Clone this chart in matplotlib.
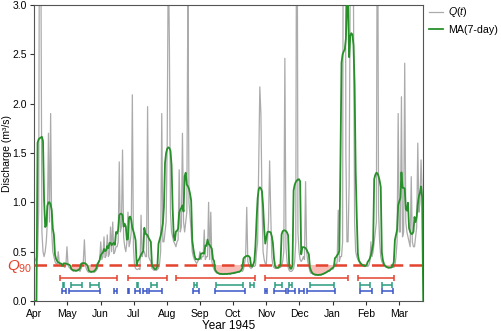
import matplotlib.pyplot as plt
import matplotlib.ticker as mticker
import numpy as np
import pandas as pd

plt.rcParams['font.family'] = ['Liberation Sans', 'DejaVu Sans']
plt.rcParams['mathtext.fontset'] = 'custom'
plt.rcParams['mathtext.rm'] = 'Liberation Sans'
plt.rcParams['mathtext.it'] = 'Liberation Sans:italic'

months = ['Apr', 'May', 'Jun', 'Jul', 'Aug', 'Sep',
          'Oct', 'Nov', 'Dec', 'Jan', 'Feb', 'Mar']

# daily discharge, m3/s, from 1 Apr 1945
q = [
    0.45, 0.42, 0.40, 0.45, 0.90, 5.00, 3.60, 0.70, 0.50, 0.45,
    0.50, 0.60, 0.80, 1.70, 0.80, 1.90, 0.70, 0.50, 0.45, 0.40,
    0.38, 0.37, 0.50, 0.38, 0.36, 0.35, 0.36, 0.35, 0.34, 0.36,
    0.55, 0.36, 0.34, 0.33, 0.32, 0.31, 0.30, 0.31, 0.30, 0.31,
    0.32, 0.31, 0.30, 0.33, 0.36, 0.40, 0.62, 0.36, 0.32, 0.30,
    0.29, 0.30, 0.29, 0.30, 0.30, 0.29, 0.30, 0.31, 0.33, 0.38,
    0.42, 0.60, 0.42, 0.45, 0.65, 0.44, 0.46, 0.67, 0.45, 0.48,
    0.75, 0.50, 0.80, 0.48, 0.50, 0.55, 0.55, 0.60, 1.41, 0.70,
    0.75, 1.53, 0.65, 0.55, 0.50, 0.60, 0.90, 0.55, 0.60, 0.70,
    2.09, 0.55, 0.36, 0.33, 0.32, 0.32, 0.33, 0.32, 0.87, 0.45,
    0.50, 0.50, 0.45, 0.45, 1.97, 0.45, 0.42, 0.40, 0.33, 0.32,
    0.31, 0.32, 0.31, 0.32, 0.33, 0.38, 0.50, 1.90, 0.60, 0.60,
    0.70, 0.80, 1.60, 3.60, 2.60, 0.90, 0.70, 0.65, 0.60, 0.58,
    0.55, 0.60, 0.62, 1.33, 0.70, 0.75, 1.70, 0.80, 0.70, 0.80,
    0.90, 3.20, 1.00, 0.85, 0.70, 0.50, 0.45, 0.42, 0.40, 0.38,
    0.40, 0.42, 0.50, 0.42, 0.45, 0.45, 0.72, 0.42, 0.45, 0.45,
    1.00, 0.42, 0.90, 0.40, 0.35, 0.32, 0.30, 0.29, 0.28, 0.28,
    0.27, 0.27, 0.28, 0.27, 0.27, 0.28, 0.27, 0.27, 0.28, 0.28,
    0.27, 0.28, 0.28, 0.29, 0.28, 0.29, 0.29, 0.30, 0.29, 0.30,
    0.31, 0.30, 0.32, 0.38, 0.45, 0.95, 0.40, 0.36, 0.34, 0.33,
    0.34, 0.36, 0.35, 0.36, 0.50, 0.60, 1.40, 2.17, 1.90, 1.00,
    0.50, 0.42, 0.38, 0.37, 0.60, 0.80, 1.42, 0.90, 0.45, 0.36,
    0.34, 0.33, 0.33, 0.34, 0.33, 0.34, 0.34, 0.36, 0.40, 0.50,
    2.46, 0.55, 0.40, 0.34, 0.31, 0.30, 0.30, 0.31, 0.33, 0.40,
    0.60, 5.60, 0.70, 0.50, 0.42, 0.40, 0.42, 0.45, 0.42, 1.21,
    0.50, 0.40, 0.35, 0.30, 0.28, 0.28, 0.27, 0.27, 0.26, 0.27,
    0.26, 0.26, 0.27, 0.26, 0.27, 0.27, 0.28, 0.28, 0.29, 0.30,
    0.31, 0.30, 0.32, 0.33, 0.32, 0.35, 0.38, 0.35, 0.40, 0.92,
    0.40, 0.45, 0.45, 0.60, 6.60, 7.50, 1.50, 0.60, 0.60, 1.20,
    3.20, 6.60, 3.60, 3.00, 0.80, 0.50, 0.45, 0.42, 0.40, 0.38,
    0.37, 0.36, 0.36, 0.35, 0.35, 0.36, 0.35, 0.36, 0.40, 0.60,
    0.45, 0.50, 0.60, 0.70, 0.80, 5.00, 0.90, 0.60, 0.45, 0.40,
    0.38, 0.36, 0.35, 0.34, 0.34, 0.33, 0.34, 0.34, 0.34, 0.34,
    0.34, 0.36, 0.45, 0.60, 1.90, 0.70, 0.70, 2.07, 0.65, 0.70,
    2.41, 0.80, 0.70, 0.65, 0.60, 0.55, 1.26, 0.60, 0.55, 0.55,
    0.65, 0.75, 1.60, 0.90, 1.00, 1.43, 1.10, 0.90, 1.20, 0.80,
]

q90 = 0.365

# drought events (start day, end day) found by three methods
events_threshold = [(24, 76), (86, 122), (130, 203), (212, 288), (297, 330)]
events_ma = [(26, 27), (34, 44), (51, 59), (94, 95), (107, 113), (147, 149),
             (167, 192), (198, 202), (221, 227), (234, 237), (253, 275),
             (299, 308), (319, 328)]
events_daily = [(25, 29), (32, 60), (73, 76), (86, 87), (92, 97), (100, 103),
                (105, 117), (146, 151), (166, 193), (212, 214), (220, 231),
                (233, 239), (243, 248), (250, 276), (299, 310), (319, 329)]

days = np.arange(len(q))
ma = pd.Series(q).rolling(7, center=True).mean().values

red = '#e4432d'

fig = plt.figure(figsize=(5.02, 3.31), dpi=100)
ax = fig.add_axes([0.0683, 0.0906, 0.7737, 0.8943])

ax.plot(days, q, color='#ababab', lw=0.9, label='$Q(t)$', zorder=2)
ax.fill_between(days, ma, q90, where=ma < q90, interpolate=True,
                color='#f8bdb7', lw=0, zorder=1)
ax.axhline(q90, color=red, lw=1.8, ls=(0, (5, 2.5)), zorder=3)
ax.plot(days, np.nan_to_num(ma), color='#27902a', lw=1.3,
        label='MA(7-day)', zorder=4)

rows = [(events_threshold, 0.23, red),
        (events_ma, 0.163, '#2a9d80'),
        (events_daily, 0.10, '#3a56c8')]
for ev, yrow, c in rows:
    ev = np.array(ev, dtype=float)
    mid = ev.mean(axis=1)
    half = (ev[:, 1] - ev[:, 0]) / 2
    ax.errorbar(mid, np.full(len(ev), yrow), xerr=half, fmt='none',
                ecolor=c, elinewidth=1.1, capsize=2, capthick=1.1, zorder=5)

ax.text(-0.006, q90 - 0.015, '$Q_{90}$', transform=ax.get_yaxis_transform(),
        ha='right', va='center', color=red, fontsize=11)

ax.set_xlim(0, 356.5)
ax.set_ylim(0, 3)
ax.set_xticks(np.arange(12) * 365 / 12, months)
ax.set_yticks(np.arange(0, 3.01, 0.5))
ax.yaxis.set_major_formatter(mticker.FormatStrFormatter('%.1f'))
ax.tick_params(labelsize=7.5, length=3, width=0.8, color='#333333', pad=2.5)
for s in ax.spines.values():
    s.set_color('#555555')
    s.set_linewidth(0.8)

ax.set_ylabel('Discharge (m³/s)', fontsize=7.5)
ax.yaxis.set_label_coords(-0.058, 0.5)
ax.set_xlabel('Year 1945', fontsize=8.5, labelpad=1)

ax.legend(loc='upper left', bbox_to_anchor=(1.005, 1.0135), frameon=False,
          fontsize=7.7, handlelength=1.3, handletextpad=0.5, borderaxespad=0)

fig.savefig('out.png', dpi=100)
